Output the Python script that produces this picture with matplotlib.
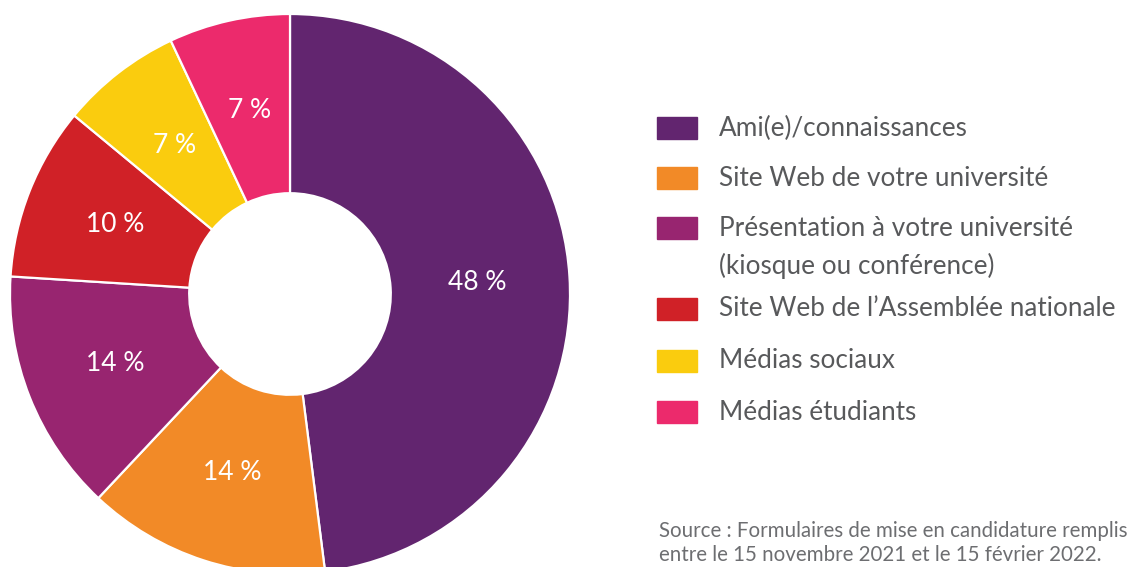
import matplotlib.pyplot as plt
from matplotlib.patches import Rectangle

# === Data ===
categories = [
    "Ami(e)/connaissances",
    "Site Web de votre université",
    "Présentation à votre université\n(kiosque ou conférence)",
    "Site Web de l’Assemblée nationale",
    "Médias sociaux",
    "Médias étudiants",
]
values = [48, 14, 14, 10, 7, 7]
colors = ["#62256F", "#F28A27", "#982570", "#D02127", "#FACC0E", "#EC2A6C"]
source = ("Source : Formulaires de mise en candidature remplis\n"
          "entre le 15 novembre 2021 et le 15 février 2022.")

W, H = 1131, 567
fig = plt.figure(figsize=(W / 100, H / 100), dpi=100)
plt.rcParams['font.family'] = ['Lato', 'DejaVu Sans']

# donut: centre (290, 294) px, outer radius 280 px
cx, cy, r = 290, 294, 280
ax = fig.add_axes([(cx - r) / W, (H - cy - r) / H, 2 * r / W, 2 * r / H])
wedges, _, autotexts = ax.pie(
    values, colors=colors, startangle=90, counterclock=False, radius=1,
    autopct=lambda p: f"{p:.0f} %", pctdistance=0.67,
    wedgeprops=dict(width=0.64, edgecolor="white", linewidth=1.6),
    textprops=dict(color="white", fontsize=19),
)
ax.set_xlim(-1, 1)
ax.set_ylim(-1, 1)
ax.set_aspect("equal")
ax.axis("off")

# === Legend (manual) ===
row_y = [128, 178, 228, 309, 361, 412]  # px from top
for lab, col, y in zip(categories, colors, row_y):
    fig.patches.append(Rectangle((657 / W, (H - y - 11) / H), 40 / W, 22 / H,
                                 transform=fig.transFigure, color=col))
    for k, line in enumerate(lab.split("\n")):
        fig.text(719 / W, (H - y - k * 38) / H, line, fontsize=18.8,
                 color="#58595B", va="center", ha="left")

fig.text(659 / W, (H - 543) / H, source, fontsize=14.8, color="#6D6E71",
         va="center", ha="left", linespacing=1.3)

fig.savefig("out.png", dpi=100, facecolor="white")
